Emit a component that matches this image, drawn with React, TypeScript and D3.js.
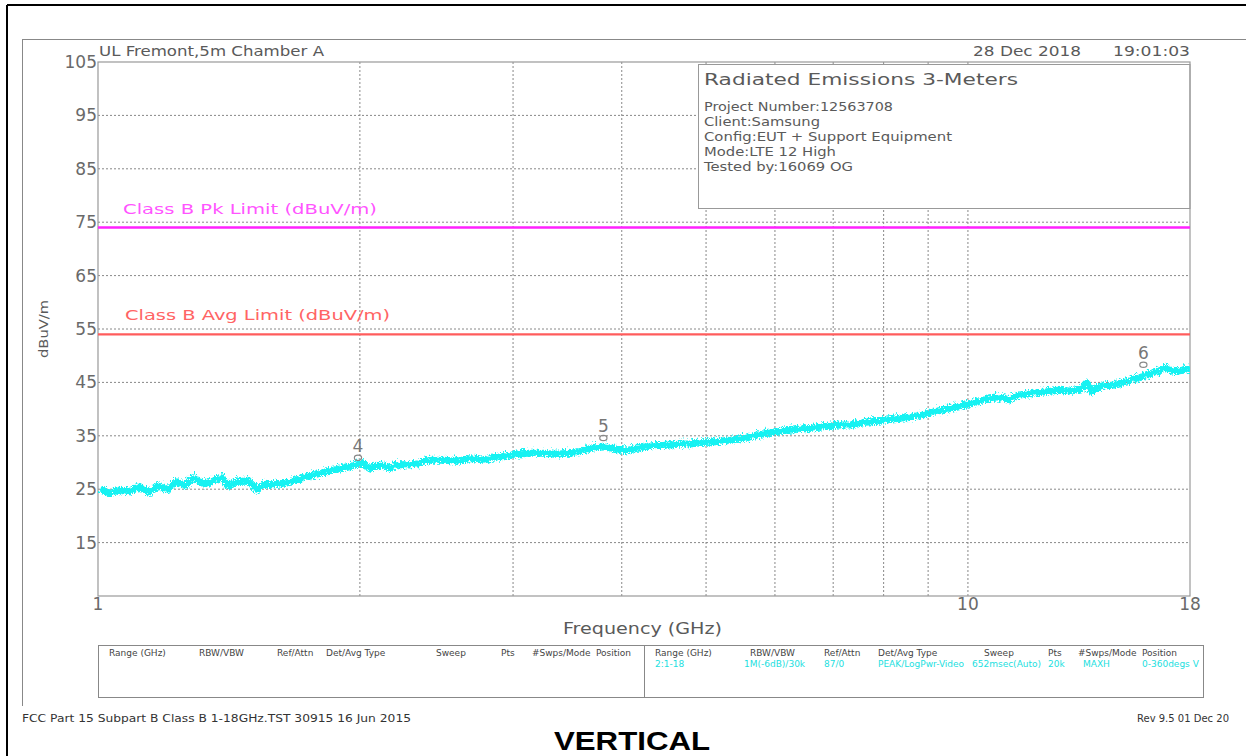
import React from "react";
import * as d3 from "d3";

// ---------- data ----------
const FREQ_GHZ = [
  1.0, 1.027, 1.054, 1.083, 1.109, 1.142, 1.169, 1.194, 1.226, 1.252, 1.282, 1.317, 1.352, 1.381,
  1.407, 1.444, 1.483, 1.515, 1.543, 1.585, 1.627, 1.671, 1.716, 1.762, 1.809, 1.858, 1.908, 1.959,
  2.001, 2.044, 2.099, 2.155, 2.213, 2.272, 2.333, 2.395, 2.486, 2.573, 2.663, 2.764, 2.845, 2.921,
  3.0, 3.113, 3.222, 3.336, 3.462, 3.583, 3.679, 3.807, 3.908, 4.013, 4.165, 4.311, 4.462, 4.631,
  4.793, 4.961, 5.148, 5.329, 5.515, 5.723, 5.923, 6.131, 6.362, 6.585, 6.815, 7.072, 7.319, 7.576,
  7.862, 8.137, 8.511, 8.809, 9.118, 9.462, 9.793, 10.14, 10.52, 10.89, 11.09, 11.39, 11.79, 12.2,
  12.66, 13.1, 13.46, 13.63, 13.81, 14.18, 14.69, 15.24, 15.77, 16.07, 16.5, 16.76, 17.21, 17.67, 18.0,
];
const LEVEL_DBUV = [
  25.5, 24.6, 25.2, 24.9, 25.8, 24.8, 26.0, 25.2, 26.8, 26.0, 27.5, 26.3, 26.9, 27.5,
  26.0, 26.8, 26.9, 25.2, 26.3, 26.2, 26.5, 26.8, 27.5, 28.0, 28.5, 29.0, 29.3, 29.8,
  30.2, 29.3, 29.9, 29.3, 30.0, 29.9, 30.2, 30.8, 30.8, 30.6, 31.1, 30.8, 31.3, 31.5,
  31.9, 32.1, 32.1, 31.9, 32.1, 32.5, 33.1, 33.3, 32.9, 32.5, 33.1, 33.5, 33.6, 33.8,
  33.9, 34.1, 34.3, 34.6, 34.9, 35.6, 36.0, 36.3, 36.6, 36.8, 37.1, 37.4, 37.4, 37.9,
  38.1, 38.5, 38.8, 39.3, 39.9, 40.4, 41.0, 41.6, 42.3, 42.5, 42.1, 43.0, 43.3, 43.6,
  43.9, 43.7, 44.2, 45.2, 43.6, 44.7, 44.9, 45.6, 46.4, 46.9, 47.5, 48.0, 47.4, 47.7, 47.9,
];

const LIMIT_NAMES = ["Class B Pk Limit (dBuV/m)", "Class B Avg Limit (dBuV/m)"];
const LIMIT_VALUES = [74, 54];

const MARKER_IDS = ["4", "5", "6"];
const MARKER_FREQ = [1.99, 3.81, 15.91];
const MARKER_LEVEL = [30.9, 34.6, 48.3];

const Y_TICKS = [105, 95, 85, 75, 65, 55, 45, 35, 25, 15];
const X_GRID = [2, 3, 4, 5, 6, 7, 8, 9, 10];
const X_LABELS = [1, 10, 18];

const INFO_TITLE = "Radiated Emissions 3-Meters";
const INFO_LINES = [
  "Project Number:12563708",
  "Client:Samsung",
  "Config:EUT + Support Equipment",
  "Mode:LTE 12 High",
  "Tested by:16069 OG",
];

const TABLE_HEADERS = ["Range (GHz)", "RBW/VBW", "Ref/Attn", "Det/Avg Type", "Sweep", "Pts", "#Swps/Mode", "Position"];
const TABLE_VALUES = ["2:1-18", "1M(-6dB)/30k", "87/0", "PEAK/LogPwr-Video", "652msec(Auto)", "20k", "MAXH", "0-360degs V"];

// ---------- layout / style ----------
const W = 1246;
const H = 756;
const PL = 98, PR = 1190, PT = 62, PB = 596;
const LIMIT_COLORS = ["#ff22ff", "#ff5c5c"];
const LIMIT_TEXT_COLORS = ["#ff55ff", "#ff6464"];
const LIMIT_LABEL_POS = [[123, 377, 214], [125, 390, 320]];
const LEFT_HDR_X = [109, 199, 277, 326, 436, 501, 532, 596];
const RIGHT_HDR_X = [655, 750, 824, 878, 984, 1048, 1078, 1142];
const RIGHT_VAL_X = [655, 744, 824, 878, 972, 1048, 1083, 1142];
const INFO_LINE_W = [189, 116, 248, 132, 149];
const FONT = "'DejaVu Sans', sans-serif";
const TXT = "#5a5a5a";
const TRACE = "#14f2f2";

export default function App() {
  const x = d3.scaleLog().domain([1, 18]).range([PL, PR]);
  const y = d3.scaleLinear().domain([5, 105]).range([PB, PT]);
  const pts: [number, number][] = FREQ_GHZ.map((f, i) => [f, LEVEL_DBUV[i]]);
  const line = d3
    .line<[number, number]>()
    .x((d) => x(d[0]))
    .y((d) => y(d[1]));

  return (
    <svg
      width={W}
      height={H}
      style={{ position: "absolute", left: 0, top: 0, background: "#fff" }}
      fontFamily={FONT}
    >
      <defs>
        <filter id="rough" x="-2%" y="-30%" width="104%" height="160%">
          <feTurbulence type="turbulence" baseFrequency="1.1 0.35" numOctaves="2" seed="7" result="n" />
          <feDisplacementMap in="SourceGraphic" in2="n" scale="7" xChannelSelector="B" yChannelSelector="R" />
        </filter>
        <clipPath id="plotclip">
          <rect x={PL} y={PT} width={PR - PL} height={PB - PT} />
        </clipPath>
      </defs>
      <rect x={0} y={0} width={W} height={H} fill="#fff" />
      {/* outer frames */}
      <line x1={7} y1={5} x2={W} y2={5} stroke="#000" strokeWidth={2} />
      <line x1={7} y1={5} x2={7} y2={H} stroke="#000" strokeWidth={2} />
      <line x1={22} y1={39.5} x2={W} y2={39.5} stroke="#888" strokeWidth={1} />
      <line x1={22.5} y1={39} x2={22.5} y2={706} stroke="#888" strokeWidth={1} />

      {/* header texts */}
      <text x={99} y={56} fontSize={14} fill={TXT} textLength={225} lengthAdjust="spacingAndGlyphs">
        UL Fremont,5m Chamber A
      </text>
      <text x={973} y={56} fontSize={14} fill={TXT} textLength={108} lengthAdjust="spacingAndGlyphs">
        28 Dec 2018
      </text>
      <text x={1113} y={56} fontSize={14} fill={TXT} textLength={77} lengthAdjust="spacingAndGlyphs">
        19:01:03
      </text>

      {/* grid */}
      {Y_TICKS.slice(1).map((t) => (
        <line key={"gy" + t} x1={PL} x2={PR} y1={y(t)} y2={y(t)} stroke="#888" strokeWidth={1} strokeDasharray="2,2" />
      ))}
      {X_GRID.map((t) => (
        <line key={"gx" + t} x1={x(t)} x2={x(t)} y1={PT} y2={PB} stroke="#888" strokeWidth={1} strokeDasharray="2,2" />
      ))}

      {/* info box */}
      <rect x={698.5} y={64.5} width={PR - 698.5} height={144} fill="#fff" stroke="#999" strokeWidth={1} />
      <text x={704} y={85} fontSize={16.5} fill={TXT} textLength={314} lengthAdjust="spacingAndGlyphs">
        {INFO_TITLE}
      </text>
      {INFO_LINES.map((s, i) => (
        <text key={s} x={704} y={111 + i * 15} fontSize={12.5} fill={TXT} textLength={INFO_LINE_W[i]} lengthAdjust="spacingAndGlyphs">
          {s}
        </text>
      ))}

      {/* plot frame */}
      <rect x={PL} y={PT} width={PR - PL} height={PB - PT} fill="none" stroke="#999" strokeWidth={1.2} />

      {/* y tick labels */}
      {Y_TICKS.map((t) => (
        <text key={"yt" + t} x={97} y={y(t) + 6} fontSize={17} fill="#6a6a6a" textAnchor="end">
          {t}
        </text>
      ))}
      <text
        transform="translate(48,329) rotate(-90)"
        fontSize={13}
        fill={TXT}
        textAnchor="middle"
        textLength={58}
        lengthAdjust="spacingAndGlyphs"
      >
        dBuV/m
      </text>

      {/* x labels */}
      {X_LABELS.map((t) => (
        <text key={"xl" + t} x={x(t)} y={610} fontSize={17} fill="#6a6a6a" textAnchor="middle">
          {t}
        </text>
      ))}
      <text x={563} y={634} fontSize={16} fill={TXT} textLength={159} lengthAdjust="spacingAndGlyphs">
        Frequency (GHz)
      </text>

      {/* limits */}
      {LIMIT_VALUES.map((v, i) => (
        <g key={"lim" + i}>
          <line x1={PL} x2={PR} y1={y(v)} y2={y(v)} stroke={LIMIT_COLORS[i]} strokeWidth={2.4} />
          <text
            x={LIMIT_LABEL_POS[i][0]}
            y={LIMIT_LABEL_POS[i][2]}
            fontSize={14}
            fill={LIMIT_TEXT_COLORS[i]}
            textLength={LIMIT_LABEL_POS[i][1] - LIMIT_LABEL_POS[i][0]}
            lengthAdjust="spacingAndGlyphs"
          >
            {LIMIT_NAMES[i]}
          </text>
        </g>
      ))}

      {/* trace */}
      <g clipPath="url(#plotclip)">
        <g filter="url(#rough)">
          <path d={line(pts) || ""} fill="none" stroke={TRACE} strokeWidth={7} strokeLinejoin="round" />
        </g>
      </g>

      {/* markers */}
      {MARKER_IDS.map((m, i) => (
        <g key={"mk" + m}>
          <ellipse cx={x(MARKER_FREQ[i])} cy={y(MARKER_LEVEL[i])} rx={3.6} ry={2.6} fill="none" stroke="#888" strokeWidth={1.2} />
          <text x={x(MARKER_FREQ[i])} y={y(MARKER_LEVEL[i]) - 6} fontSize={17} fill="#777" textAnchor="middle">
            {m}
          </text>
        </g>
      ))}

      {/* bottom table */}
      <rect x={98.5} y={645.5} width={1105} height={52} fill="none" stroke="#888" strokeWidth={1} />
      <line x1={644.5} x2={644.5} y1={645.5} y2={697.5} stroke="#888" strokeWidth={1} />
      {TABLE_HEADERS.map((h, i) => (
        <text key={"lh" + i} x={LEFT_HDR_X[i]} y={656} fontSize={9} fill="#444">
          {h}
        </text>
      ))}
      {TABLE_HEADERS.map((h, i) => (
        <text key={"rh" + i} x={RIGHT_HDR_X[i]} y={656} fontSize={9} fill="#444">
          {h}
        </text>
      ))}
      {TABLE_VALUES.map((h, i) => (
        <text key={"rv" + i} x={RIGHT_VAL_X[i]} y={667} fontSize={9} fill="#22e0e0">
          {h}
        </text>
      ))}

      {/* footer */}
      <text x={22} y={722} fontSize={10} fill="#333" textLength={389} lengthAdjust="spacingAndGlyphs">
        FCC Part 15 Subpart B Class B 1-18GHz.TST 30915 16 Jun 2015
      </text>
      <text x={1137} y={722} fontSize={10} fill="#333">
        Rev 9.5 01 Dec 20
      </text>
      <text
        x={632}
        y={750}
        fontSize={26}
        fontWeight="bold"
        fontFamily="'Liberation Sans', Arial, sans-serif"
        textAnchor="middle"
        fill="#000"
        textLength={156}
        lengthAdjust="spacingAndGlyphs"
      >
        VERTICAL
      </text>
    </svg>
  );
}
